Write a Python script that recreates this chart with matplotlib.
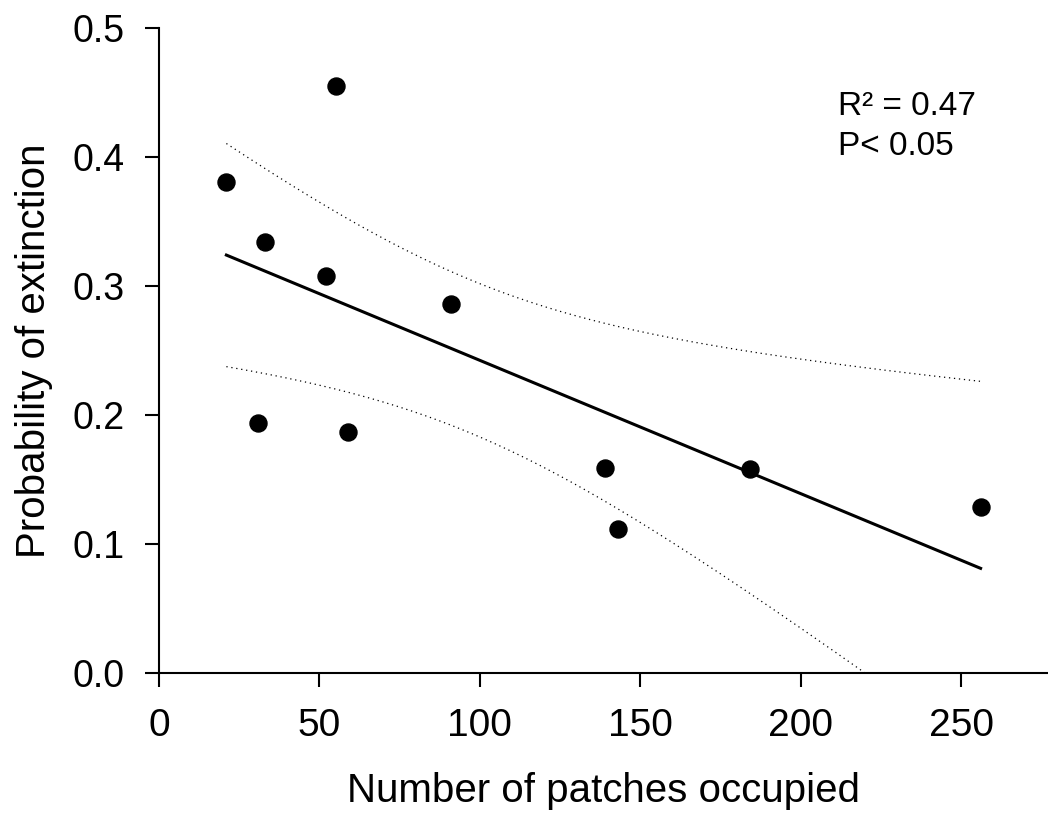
import numpy as np
import matplotlib.pyplot as plt

plt.rcParams['font.family'] = ['Liberation Sans', 'DejaVu Sans']

# patches occupied vs. probability of extinction
patches = np.array([21, 55, 33, 52, 91, 31, 59, 139, 143, 184, 256])
p_ext = np.array([0.381, 0.455, 0.334, 0.308, 0.286, 0.194, 0.187, 0.159, 0.112, 0.158, 0.129])

x_ticks = [0, 50, 100, 150, 200, 250]
y_ticks = [0.0, 0.1, 0.2, 0.3, 0.4, 0.5]
stats_text = "R² = 0.47\nP< 0.05"

# linear fit + 95% confidence band of the mean
n = len(patches)
slope, intercept = np.polyfit(patches, p_ext, 1)
resid = p_ext - (slope * patches + intercept)
s = np.sqrt(np.sum(resid ** 2) / (n - 2))
sxx = np.sum((patches - patches.mean()) ** 2)
t_crit = 2.262  # t(0.975, df=9)

xs = np.linspace(patches.min(), patches.max(), 200)
ys = slope * xs + intercept
half = t_crit * s * np.sqrt(1 / n + (xs - patches.mean()) ** 2 / sxx)

fig = plt.figure(figsize=(10.48, 8.14), dpi=100)
ax = fig.add_axes([0.1517, 0.1732, 0.8483, 0.7924])

ax.plot(xs, ys, color="black", linewidth=2.2)
ax.plot(xs, ys + half, color="black", linewidth=0.9, linestyle=(0, (1, 3)))
ax.plot(xs, ys - half, color="black", linewidth=0.9, linestyle=(0, (1, 3)))
ax.scatter(patches, p_ext, s=150, color="black", zorder=3)

ax.set_xlim(0, 277)
ax.set_ylim(0, 0.5)
ax.set_xticks(x_ticks)
ax.set_yticks(y_ticks)
ax.set_yticklabels([f"{v:.1f}" for v in y_ticks])

for side in ["top", "right"]:
    ax.spines[side].set_visible(False)
for side in ["left", "bottom"]:
    ax.spines[side].set_linewidth(1.5)
ax.tick_params(direction="out", length=10, width=1.5, pad=15)
ax.tick_params(axis="x", labelsize=28)
ax.tick_params(axis="y", labelsize=27)

ax.set_xlabel("Number of patches occupied", fontsize=29, labelpad=20)
ax.set_ylabel("Probability of extinction", fontsize=29, labelpad=14)

ax.text(211.5, 0.451, stats_text, fontsize=24,
        ha="left", va="top", linespacing=1.35)

fig.savefig("out.png", dpi=100)
